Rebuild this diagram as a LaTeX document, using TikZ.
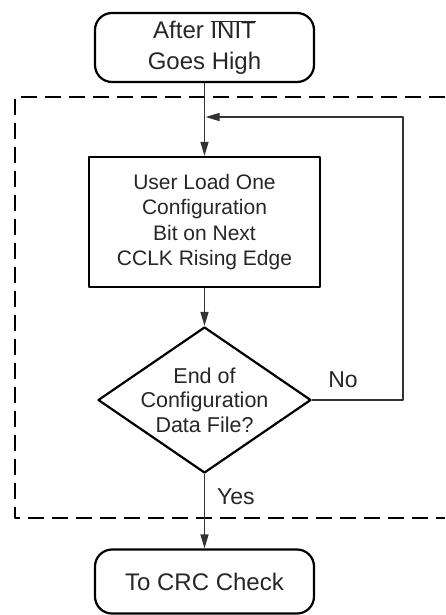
\documentclass[tikz,border=0pt]{standalone}
\usepackage{fontspec}
\setmainfont{Liberation Sans}
\usetikzlibrary{shapes.geometric,arrows.meta}
\begin{document}
\begin{tikzpicture}[x=1pt, y=-1pt, line join=round,
    term/.style={draw, line width=2.2pt, rounded corners=17pt, minimum width=219pt, inner sep=0pt,
        align=center, text=black!85, font=\fontsize{24}{30}\selectfont},
    proc/.style={draw, line width=2.2pt, minimum width=231pt, minimum height=130pt, inner sep=0pt,
        align=center, text=black!85, font=\fontsize{21}{25.5}\selectfont},
    decide/.style={draw, diamond, aspect=1.46, line width=2.2pt, minimum width=213pt, minimum height=146pt,
        inner sep=-4pt, align=center, text=black!85, font=\fontsize{21.5}{24.5}\selectfont},
    flow/.style={line width=1.3pt, draw=black!80, -{Triangle[length=14pt,width=8pt]}},
    frame/.style={line width=2pt, dash pattern=on 16pt off 8pt},
    lbl/.style={inner sep=0pt, text=black!85, font=\fontsize{23}{27}\selectfont}]
    \useasboundingbox (0,0) rectangle (445,615);
    % blocks
    \node[term, minimum height=69pt] (start) at (204.5,47.5) {After $\overline{\hbox{INIT}}$\\[1pt]Goes High};
    \node[proc] (load) at (204.5,222) {User Load One\\Configuration\\Bit on Next\\CCLK Rising Edge};
    \node[decide] (eof) at (204.5,400) {End of\\Configuration\\Data File?};
    \node[term, minimum height=64pt] (crc) at (204.5,581.5) {To CRC Check};
    % dashed frame
    \draw[frame] (445,97) -| (15,518) -- (445,518);
    % connectors
    \coordinate (back) at (205.5,117);
    \draw[flow] (start) -- (load);
    \draw[flow] (load) -- (eof);
    \draw[flow] (eof) -- node[lbl, pos=0.3, right=12pt] {Yes} (crc);
    \draw[flow] (eof.east) -- node[lbl, pos=0.34, above=12pt] {No} (403,400) |- (back);
\end{tikzpicture}
\end{document}
